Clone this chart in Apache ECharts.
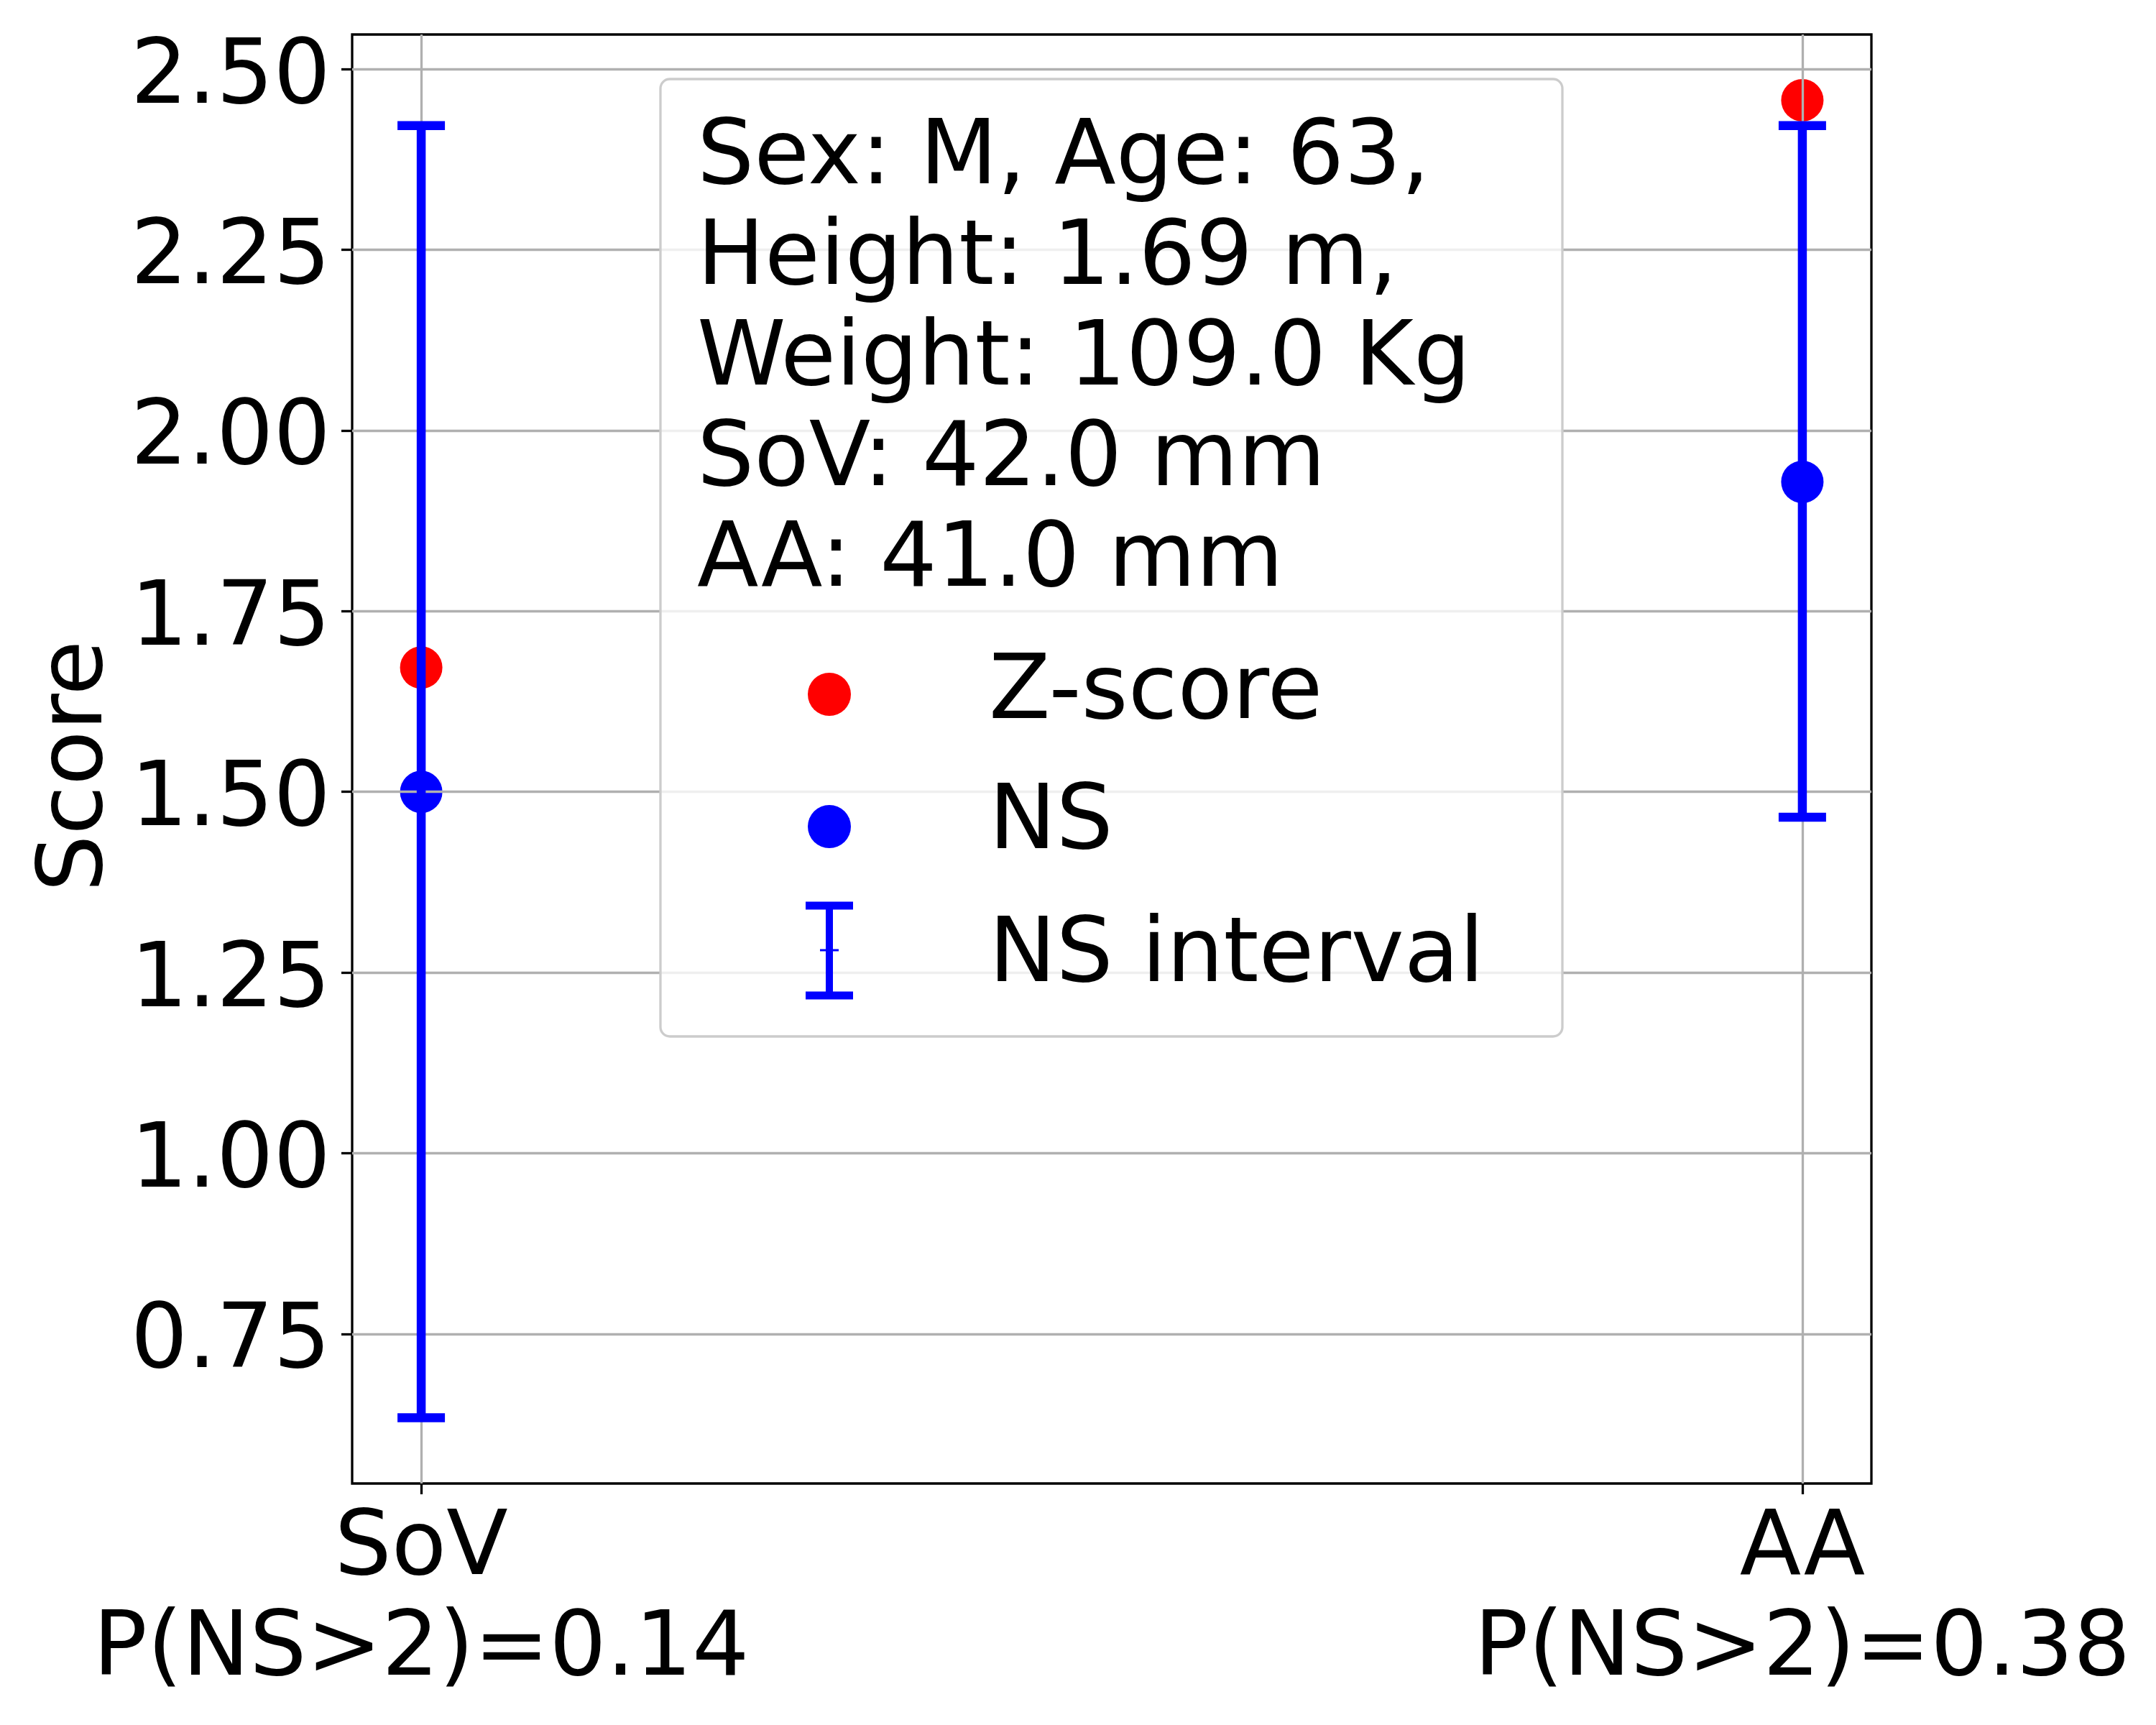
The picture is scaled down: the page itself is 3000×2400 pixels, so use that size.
<!DOCTYPE html>
<html>
<head>
<meta charset="utf-8">
<script src="https://cdn.jsdelivr.net/npm/echarts@6/dist/echarts.min.js"></script>
<style>
  html, body { margin: 0; padding: 0; background: #fff; overflow: hidden; }
  #main { width: 3000px; height: 2400px; }
</style>
</head>
<body>
<div id="main"></div>
<script>
// data
const categories = ['SoV', 'AA'];
const pNsAbove2 = [0.14, 0.38];
const zScore = [1.672, 2.457];
const nsScore = [1.50, 1.929];
const nsLow = [0.634, 1.465];
const nsHigh = [2.422, 2.422];
const yTicks = [0.75, 1.00, 1.25, 1.50, 1.75, 2.00, 2.25, 2.50];
const infoLines = ['Sex: M, Age: 63,', 'Height: 1.69 m,', 'Weight: 109.0 Kg', 'SoV: 42.0 mm', 'AA: 41.0 mm'];
const legendNames = ['Z-score', 'NS', 'NS interval'];

const FONT = 'DejaVu Sans';
const RED = '#ff0000';
const BLUE = '#0000ff';
const GRIDC = '#b0b0b0';

let chart = echarts.init(document.getElementById('main'));

// error bar: vertical line + two caps
function renderErrorBar(params, api) {
  let x = api.value(0);
  let lo = api.coord([x, api.value(1)]);
  let hi = api.coord([x, api.value(2)]);
  let half = 33;
  let st = { stroke: BLUE, lineWidth: 12.5, fill: null };
  return {
    type: 'group',
    children: [
      { type: 'line', shape: { x1: lo[0], y1: lo[1], x2: hi[0], y2: hi[1] }, style: st },
      { type: 'line', shape: { x1: hi[0] - half, y1: hi[1], x2: hi[0] + half, y2: hi[1] }, style: st },
      { type: 'line', shape: { x1: lo[0] - half, y1: lo[1], x2: lo[0] + half, y2: lo[1] }, style: st }
    ]
  };
}

// legend box drawn by hand (text block + 3 entries)
let legendGraphics = [
  {
    type: 'rect', z: 100,
    shape: { x: 919, y: 110, width: 1255, height: 1332, r: 13 },
    style: { fill: 'rgba(255,255,255,0.8)', stroke: '#cccccc', lineWidth: 3.3 }
  },
  {
    type: 'text', z: 101, x: 970, y: 152.5,
    style: { text: infoLines.join('\n'), font: '125px "' + FONT + '"', fill: '#000', lineHeight: 140, verticalAlign: 'top', align: 'left' }
  },
  { type: 'circle', z: 101, shape: { cx: 1154, cy: 966, r: 30 }, style: { fill: RED } },
  { type: 'circle', z: 101, shape: { cx: 1154, cy: 1150, r: 30 }, style: { fill: BLUE } },
  { type: 'line', z: 101, shape: { x1: 1154, y1: 1260, x2: 1154, y2: 1385 }, style: { stroke: BLUE, lineWidth: 10 } },
  { type: 'line', z: 101, shape: { x1: 1121, y1: 1260, x2: 1187, y2: 1260 }, style: { stroke: BLUE, lineWidth: 11 } },
  { type: 'line', z: 101, shape: { x1: 1121, y1: 1385, x2: 1187, y2: 1385 }, style: { stroke: BLUE, lineWidth: 11 } },
  { type: 'line', z: 101, shape: { x1: 1141, y1: 1322, x2: 1167, y2: 1322 }, style: { stroke: BLUE, lineWidth: 3 } }
];
let legendTextY = [967, 1148, 1333];
legendNames.forEach(function (n, i) {
  legendGraphics.push({
    type: 'text', z: 101, x: 1376, y: legendTextY[i],
    style: { text: n, font: '125px "' + FONT + '"', fill: '#000', verticalAlign: 'middle', align: 'left' }
  });
});

let option = {
  backgroundColor: '#fff',
  animation: false,
  textStyle: { fontFamily: FONT },
  grid: {
    left: 490, right: 396, top: 48, bottom: 336,
    show: true, borderColor: '#000', borderWidth: 3.3, backgroundColor: 'transparent'
  },
  xAxis: {
    type: 'value', min: -0.05, max: 1.05,
    axisLine: { show: false, onZero: false },
    axisTick: { show: true, length: 15, lineStyle: { color: '#000', width: 3.3 }, customValues: [0, 1] },
    splitLine: { show: true, lineStyle: { color: GRIDC, width: 3.3 } },
    axisLabel: {
      customValues: [0, 1],
      fontSize: 125, color: '#000', lineHeight: 140, margin: 24, fontFamily: FONT,
      formatter: function (v) {
        let i = Math.round(v);
        return categories[i] + '\nP(NS>2)=' + pNsAbove2[i].toFixed(2);
      }
    }
  },
  yAxis: {
    type: 'value', min: 0.543, max: 2.548,
    name: 'Score', nameLocation: 'middle', nameRotate: 90, nameGap: 308,
    nameTextStyle: { fontSize: 125, color: '#000', fontFamily: FONT, padding: [0, 20, 0, 0] },
    axisLine: { show: false, onZero: false },
    axisTick: { show: true, length: 15, lineStyle: { color: '#000', width: 3.3 }, customValues: yTicks },
    splitLine: { show: true, lineStyle: { color: GRIDC, width: 3.3 } },
    axisLabel: {
      customValues: yTicks,
      fontSize: 125, color: '#000', margin: 30, fontFamily: FONT,
      verticalAlign: 'top', lineHeight: 28,
      formatter: function (v) { return v.toFixed(2); }
    }
  },
  graphic: legendGraphics,
  series: [
    {
      name: 'Z-score', type: 'scatter', z: -1,
      symbolSize: 59, itemStyle: { color: RED, opacity: 1 },
      data: zScore.map(function (v, i) { return [i, v]; })
    },
    {
      name: 'NS', type: 'scatter', z: -1,
      symbolSize: 59, itemStyle: { color: BLUE, opacity: 1 },
      data: nsScore.map(function (v, i) { return [i, v]; })
    },
    {
      name: 'NS interval', type: 'custom', z: 5,
      renderItem: renderErrorBar,
      encode: { x: 0, y: [1, 2] },
      data: nsLow.map(function (v, i) { return [i, v, nsHigh[i]]; })
    }
  ]
};

chart.setOption(option);
</script>
</body>
</html>
